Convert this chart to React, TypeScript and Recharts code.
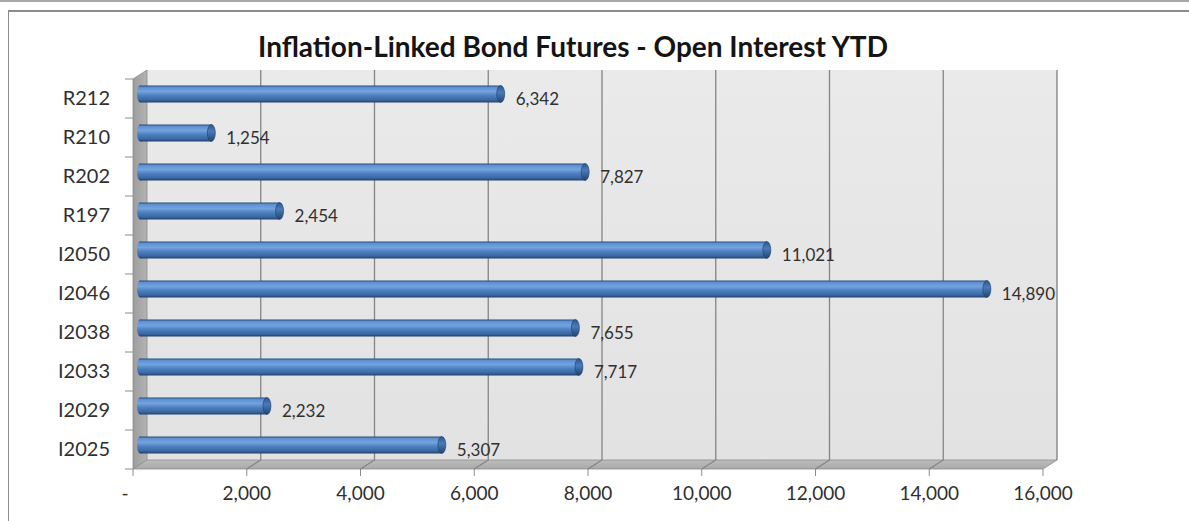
import { Bar, BarChart, LabelList, ReferenceArea, ReferenceLine, XAxis, YAxis } from "recharts";

const categories = ["R212", "R210", "R202", "R197", "I2050", "I2046", "I2038", "I2033", "I2029", "I2025"];
const openInterest = [6342, 1254, 7827, 2454, 11021, 14890, 7655, 7717, 2232, 5307];
const xTicks = [0, 2000, 4000, 6000, 8000, 10000, 12000, 14000, 16000];
const gridTicks = [2000, 4000, 6000, 8000, 10000, 12000, 14000];

const data = categories.map((name, i) => ({ name, value: openInterest[i] }));

// 3D depth offset of the back wall
const DX = 14;
const DY = 9;
const PLOT_LEFT = 133;
const BAND = 39;
const FONT = "Lato, 'Open Sans', sans-serif";

function Walls(props: any) {
  const { x, y, width, height } = props;
  const b = y + height;
  const r = x + width;
  return (
    <g>
      <polygon
        points={`${x + DX},${y - DY} ${r + DX},${y - DY} ${r + DX},${b - DY} ${x + DX},${b - DY}`}
        fill="url(#wallGrad)"
      />
      <polygon points={`${x},${y} ${x + DX},${y - DY} ${x + DX},${b - DY} ${x},${b}`} fill="url(#sideGrad)" stroke="#8c8c8c" strokeWidth={0.8} />
      <polygon points={`${x},${b} ${x + DX},${b - DY} ${r + DX},${b - DY} ${r},${b}`} fill="url(#floorGrad)" stroke="#8c8c8c" strokeWidth={0.8} />
      <line x1={r + DX} y1={y - DY} x2={r + DX} y2={b - DY} stroke="#7f7f7f" strokeWidth={1.3} />
    </g>
  );
}

function GridLine(props: any) {
  const { x1, y1, y2 } = props;
  const top = Math.min(y1, y2);
  const bottom = Math.max(y1, y2);
  return (
    <path
      d={`M${x1 + DX},${top - DY} L${x1 + DX},${bottom - DY} L${x1},${bottom}`}
      fill="none"
      stroke="#858585"
      strokeWidth={1.3}
    />
  );
}

function Cylinder(props: any) {
  const { x, y, width, height } = props;
  const bx = x + DX / 2;
  const by = y - DY / 2;
  const ry = height / 2;
  return (
    <g>
      <ellipse cx={bx} cy={by + ry} rx={3} ry={ry} fill="url(#barGrad)" />
      <rect x={bx} y={by} width={width} height={height} fill="url(#barGrad)" />
      <ellipse cx={bx + width} cy={by + ry} rx={4} ry={ry} fill="url(#capGrad)" stroke="#1f3f6b" strokeWidth={0.6} />
    </g>
  );
}

function ValueLabel(props: any) {
  const { x, y, width, height, value } = props;
  return (
    <text x={x + width + 22} y={y + height / 2} dominantBaseline="central" fill="#303030" fontSize={17} fontFamily={FONT}>
      {Number(value).toLocaleString("en-US")}
    </text>
  );
}

function CategoryTick(props: any) {
  const { y, payload, index } = props;
  return (
    <g>
      <text x={PLOT_LEFT - 23} y={y - 2} textAnchor="end" dominantBaseline="central" fill="#303030" fontSize={20} fontFamily={FONT}>
        {payload.value}
      </text>
      <line x1={PLOT_LEFT - 8} x2={PLOT_LEFT} y1={y - BAND / 2} y2={y - BAND / 2} stroke="#8c8c8c" />
      {index === categories.length - 1 && (
        <line x1={PLOT_LEFT - 8} x2={PLOT_LEFT} y1={y + BAND / 2} y2={y + BAND / 2} stroke="#8c8c8c" />
      )}
    </g>
  );
}

function ValueTick(props: any) {
  const { x, y, payload } = props;
  const v = payload.value as number;
  return (
    <text x={v === 0 ? x - 8 : x} y={y + 14} textAnchor="middle" dominantBaseline="central" fill="#303030" fontSize={19} fontFamily={FONT}>
      {v === 0 ? "-" : v.toLocaleString("en-US")}
    </text>
  );
}

export default function App() {
  return (
    <div style={{ position: "absolute", left: 0, top: 0, width: 1189, height: 521, background: "#fff", overflow: "hidden" }}>
      <svg width={0} height={0} style={{ position: "absolute" }}>
        <defs>
          <linearGradient id="barGrad" x1="0" y1="0" x2="0" y2="1">
            <stop offset="0%" stopColor="#264c80" />
            <stop offset="12%" stopColor="#5e92d2" />
            <stop offset="35%" stopColor="#74a3de" />
            <stop offset="60%" stopColor="#4c7fbf" />
            <stop offset="85%" stopColor="#3a68a3" />
            <stop offset="100%" stopColor="#203f6a" />
          </linearGradient>
          <linearGradient id="capGrad" x1="0" y1="0" x2="0" y2="1">
            <stop offset="0%" stopColor="#2d568d" />
            <stop offset="40%" stopColor="#4a7bb9" />
            <stop offset="100%" stopColor="#22436f" />
          </linearGradient>
          <linearGradient id="wallGrad" x1="0" y1="0" x2="0" y2="1">
            <stop offset="0%" stopColor="#eaeaea" />
            <stop offset="100%" stopColor="#e2e2e2" />
          </linearGradient>
          <linearGradient id="sideGrad" x1="0" y1="0" x2="1" y2="0">
            <stop offset="0%" stopColor="#9d9d9d" />
            <stop offset="100%" stopColor="#b3b3b3" />
          </linearGradient>
          <linearGradient id="floorGrad" x1="0" y1="0" x2="0" y2="1">
            <stop offset="0%" stopColor="#bdbdbd" />
            <stop offset="100%" stopColor="#a9a9a9" />
          </linearGradient>
        </defs>
      </svg>
      <div style={{ position: "absolute", left: 0, top: 0, width: 1189, height: 2, background: "#a8a8a8" }} />
      <div
        style={{
          position: "absolute",
          left: 8,
          top: 10,
          width: 1200,
          height: 600,
          borderLeft: "1px solid #8c8c8c",
          borderTop: "2px solid #8c8c8c",
        }}
      />
      <div
        style={{
          position: "absolute",
          left: 0,
          width: 1146,
          top: 29,
          textAlign: "center",
          fontFamily: FONT,
          fontWeight: 700,
          fontSize: 28,
          lineHeight: "34px",
          color: "#141414",
        }}
      >
        Inflation-Linked Bond Futures - Open Interest YTD
      </div>
      <div style={{ position: "absolute", left: 0, top: 0 }}>
        <BarChart
          width={1189}
          height={521}
          layout="vertical"
          data={data}
          margin={{ top: 79, right: 146, bottom: 12, left: 13 }}
          barSize={17}
        >
          <ReferenceArea x1={0} x2={16000} shape={<Walls />} zIndex={-200} ifOverflow="visible" />
          {gridTicks.map((t) => (
            <ReferenceLine key={t} x={t} shape={<GridLine />} zIndex={-150} />
          ))}
          <XAxis
            type="number"
            domain={[0, 16000]}
            ticks={xTicks}
            height={40}
            axisLine={false}
            tickLine={{ stroke: "#8c8c8c" }}
            tickSize={7}
            tick={<ValueTick />}
          />
          <YAxis type="category" dataKey="name" width={120} axisLine={false} tickLine={false} tick={<CategoryTick />} />
          <Bar dataKey="value" shape={<Cylinder />} isAnimationActive={false}>
            <LabelList dataKey="value" content={<ValueLabel />} />
          </Bar>
        </BarChart>
      </div>
    </div>
  );
}
